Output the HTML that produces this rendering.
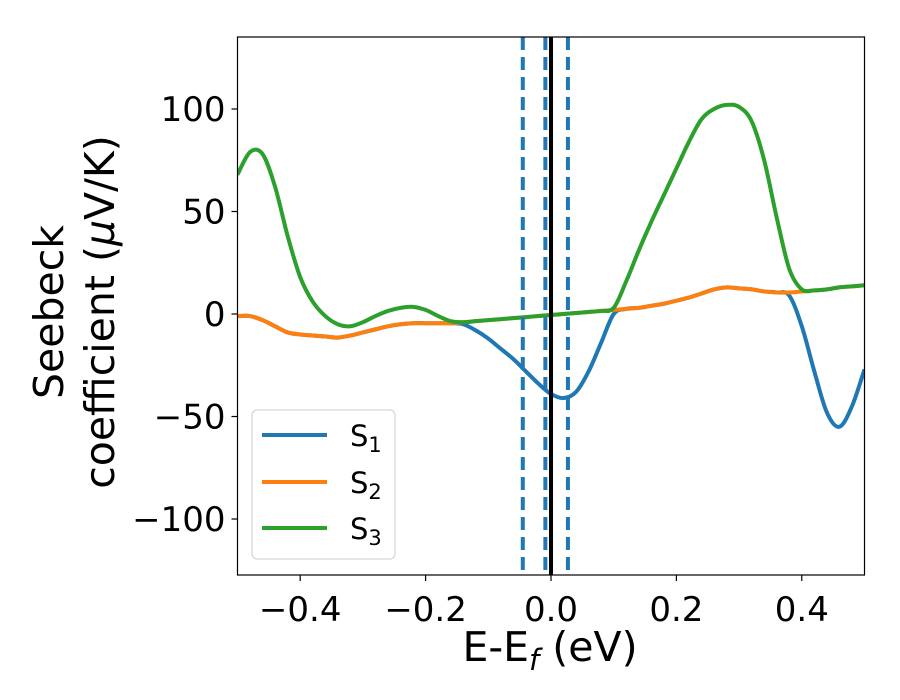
<!DOCTYPE html>
<html><head><meta charset="utf-8"><style>
body{margin:0;background:#fff}
svg{display:block;font-family:"DejaVu Sans","Liberation Sans",sans-serif}
</style></head><body>
<svg id="chart" width="900" height="700">
<rect width="900" height="700" fill="#fff"/>
<g id="plot"></g>
<g id="axes"></g>
<g id="legend">
<rect x="252" y="410" width="143" height="149" rx="5" fill="#fff" fill-opacity="0.8" stroke="#ccc"/>
<g><line x1="262" y1="435" x2="327" y2="435" stroke="#1f77b4" stroke-width="4"/><text x="350" y="446" font-size="29">S<tspan font-size="21" dy="6">1</tspan></text></g>
<g><line x1="262" y1="482" x2="327" y2="482" stroke="#ff7f0e" stroke-width="4"/><text x="350" y="493" font-size="29">S<tspan font-size="21" dy="6">2</tspan></text></g>
<g><line x1="262" y1="528" x2="327" y2="528" stroke="#2ca02c" stroke-width="4"/><text x="350" y="539" font-size="29">S<tspan font-size="21" dy="6">3</tspan></text></g>
</g>
</svg>
<script>
const xs=[-0.5,-0.48,-0.46,-0.44,-0.42,-0.40,-0.38,-0.36,-0.34,-0.32,-0.30,-0.28,-0.26,-0.24,-0.22,-0.20,-0.18,-0.16,-0.14,-0.12,-0.10,-0.08,-0.06,-0.04,-0.02,0,0.02,0.04,0.06,0.08,0.10,0.12,0.14,0.16,0.18,0.20,0.22,0.24,0.26,0.28,0.30,0.32,0.34,0.36,0.38,0.40,0.42,0.44,0.46,0.48,0.50];
const s2=[-1,-1,-3,-6,-9,-10,-10.5,-11,-11.5,-10.5,-9,-7.5,-6,-5,-4.5,-4.5,-4.5,-4.5,-4,-3.5,-3,-2.5,-2,-1.5,-1,-0.5,0,0.5,1,1.5,2,2.5,3,4,5,6.5,8,10,12,13,12.5,12,11,10.5,10.5,11,11.5,12,13,13.5,14];
const s1=[-1,-1,-3,-6,-9,-10,-10.5,-11,-11.5,-10.5,-9,-7.5,-6,-5,-4.5,-4.5,-4.5,-4.5,-5,-8,-12,-17,-22,-28,-34,-39,-41,-38,-28,-14,0,2.5,3,4,5,6.5,8,10,12,13,12.5,12,11,10.5,9,-6,-28,-48,-55,-45,-27];
const s3=[68,79,78,62,38,18,6,-1,-5,-6,-4,-1,1.5,3,3.5,2,-1,-3.5,-4,-3.5,-3,-2.5,-2,-1.5,-1,-0.5,0,0.5,1,1.5,3,16,31,45,58,71,84,95,100,102,101,94,75,47,22,12,11.5,12,13,13.5,14];
const xTicks=[-0.4,-0.2,0,0.2,0.4];
const xTickLabels=["\u22120.4","\u22120.2","0.0","0.2","0.4"];
const yTicks=[-100,-50,0,50,100];
const yTickLabels=["\u2212100","\u221250","0","50","100"];
const vDashed=[-0.045,-0.009,0.027];
const L=237.5,R=864.5,T=37,B=575;
const X=v=>L+(v+0.5)*(R-L);
const Y=v=>314-v*2.05;
const NS="http://www.w3.org/2000/svg";
function mk(tag,attrs,parent){const e=document.createElementNS(NS,tag);for(const k in attrs)e.setAttribute(k,attrs[k]);parent.appendChild(e);return e;}
const plot=document.getElementById('plot'),axes=document.getElementById('axes');
const cp=mk('clipPath',{id:'cp'},plot);mk('rect',{x:L,y:T,width:R-L,height:B-T},cp);
function path(ys){const p=xs.map((x,i)=>[X(x),Y(ys[i])]);let d=`M${p[0][0]},${p[0][1]}`;
for(let i=0;i<p.length-1;i++){const p0=p[Math.max(i-1,0)],p1=p[i],p2=p[i+1],p3=p[Math.min(i+2,p.length-1)];
d+=` C${p1[0]+(p2[0]-p0[0])/6},${p1[1]+(p2[1]-p0[1])/6} ${p2[0]-(p3[0]-p1[0])/6},${p2[1]-(p3[1]-p1[1])/6} ${p2[0]},${p2[1]}`;}return d;}
const g=mk('g',{'clip-path':'url(#cp)'},plot);
[[s1,'#1f77b4','series-s1'],[s2,'#ff7f0e','series-s2'],[s3,'#2ca02c','series-s3']].forEach(([ys,c,n])=>{
const e=mk('path',{d:path(ys),fill:'none',stroke:c,'stroke-width':4},g);

});
vDashed.forEach((v,i)=>{const e=mk('line',{x1:X(v),x2:X(v),y1:T,y2:B,stroke:'#1f77b4','stroke-width':4,'stroke-dasharray':'13 7'},g);

});
const z=mk('line',{x1:X(0),x2:X(0),y1:T,y2:B,stroke:'#000','stroke-width':4},g);


mk('rect',{x:L,y:T,width:R-L,height:B-T,fill:'none',stroke:'#000','stroke-width':1.2},axes);
xTicks.forEach((v,i)=>{mk('line',{x1:X(v),x2:X(v),y1:B,y2:B+6,stroke:'#000','stroke-width':1.2},axes);
const t=mk('text',{x:X(v),y:B+46,'font-size':34,'text-anchor':'middle'},axes);t.textContent=xTickLabels[i];

});
yTicks.forEach((v,i)=>{mk('line',{x1:L-6,x2:L,y1:Y(v),y2:Y(v),stroke:'#000','stroke-width':1.2},axes);
const t=mk('text',{x:L-12,y:Y(v)+12,'font-size':34,'text-anchor':'end'},axes);t.textContent=yTickLabels[i];

});
const xt=mk('text',{x:550,y:661,'font-size':41,'text-anchor':'middle'},axes);
xt.innerHTML='E-E<tspan font-size="29" dy="9" font-style="italic">f</tspan><tspan dy="-9"> (eV)</tspan>';


const yt=mk('text',{transform:'translate(63,312) rotate(-90)','font-size':41,'text-anchor':'middle'},axes);
yt.innerHTML='Seebeck';


const yt2=mk('text',{transform:'translate(114,312) rotate(-90)','font-size':41,'text-anchor':'middle'},axes);
yt2.innerHTML='coefficient  (<tspan font-style="italic">μ</tspan>V/K)';


</script>
</body></html>
